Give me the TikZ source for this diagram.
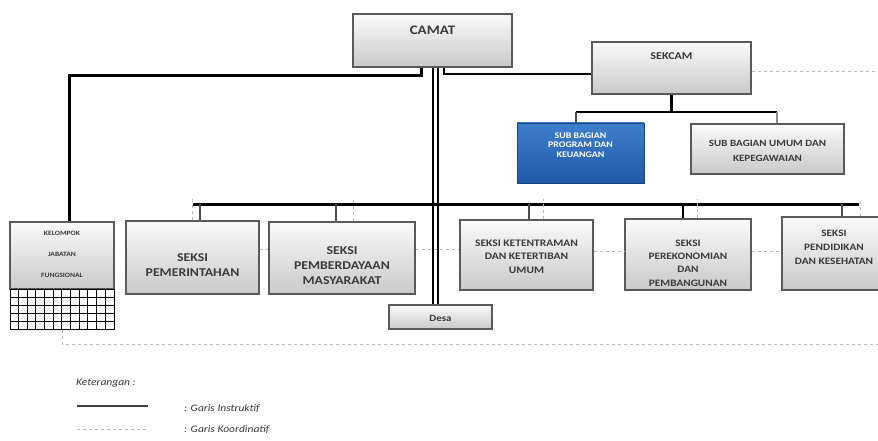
\documentclass[tikz,border=0pt]{standalone}
\usepackage{fontspec}
\setmainfont{Carlito}[FakeStretch=1.15]
\usetikzlibrary{shadows}
\definecolor{txtc}{HTML}{3A3A3A}
\definecolor{bord}{HTML}{5A5A5A}
\definecolor{blueT}{HTML}{3F7FCC}
\definecolor{blueB}{HTML}{2158A8}
\tikzset{
  box/.style={rectangle, draw=bord, line width=1.1pt, top color=white!96!gray, bottom color=gray!42,
    drop shadow={opacity=0.25, shadow xshift=1.3pt, shadow yshift=-1.3pt}, inner sep=0pt},
  bluebox/.style={rectangle, draw=blueB!80!black, line width=0.8pt, top color=blueT, bottom color=blueB,
    drop shadow={opacity=0.2, shadow xshift=1.3pt, shadow yshift=-1.3pt}, inner sep=0pt},
  lbl/.style={font=\bfseries, text=txtc, align=center, inner sep=0pt},
  thickln/.style={line width=3pt, black},
  medln/.style={line width=2.2pt, black},
  dblln/.style={line width=2pt, black},
  conn/.style={line width=1.4pt, black!70},
  coordln/.style={line width=0.8pt, gray!55, dash pattern=on 3pt off 3pt},
  leg/.style={font=\itshape\fontsize{10}{12}\selectfont, text=txtc, inner sep=0pt, anchor=west},
}
\begin{document}
\begin{tikzpicture}[x=1pt,y=-1pt]
\clip (0,0) rectangle (878,441);
\fill[white] (0,0) rectangle (878,441);

% helper coordinates
\coordinate (xL) at (421,0);
\coordinate (xR) at (444,0);
\coordinate (xD1) at (432.5,0);
\coordinate (xD2) at (438,0);
\coordinate (xK) at (69,0);
\coordinate (yT) at (0,76);
\coordinate (yS) at (0,74);
\coordinate (ySd) at (0,71);
\coordinate (ySub) at (0,112);
\coordinate (barL) at (193,204);
\coordinate (barR) at (859,204);
\coordinate (yDash) at (0,199);
\coordinate (yH) at (0,249);
\coordinate (yH2) at (0,251.5);
\coordinate (yB) at (0,344);
\coordinate (xE) at (880,0);

% boxes
\node[box, minimum width=159, minimum height=53] (camat) at (432.5,40.5) {};
\node[box, minimum width=159, minimum height=52] (sekcam) at (671.5,68) {};
\node[bluebox, minimum width=127, minimum height=60] (prog) at (580.5,153) {};
\node[box, minimum width=153, minimum height=50] (umum) at (767.5,149) {};
\node[box, minimum width=104, minimum height=67] (kel) at (62,255.5) {};
\node[rectangle, draw=black, line width=1pt, fill=white, minimum width=104, minimum height=40, inner sep=0pt] (kgrid) at (62,309) {};
\node[box, minimum width=133, minimum height=73] (pem) at (192.5,257.5) {};
\node[box, minimum width=146, minimum height=72] (pemb) at (342,258) {};
\node[box, minimum width=133, minimum height=70] (ket) at (526.5,255) {};
\node[box, minimum width=126, minimum height=71] (eko) at (688,254.5) {};
\node[box, minimum width=112, minimum height=73] (pend) at (838,253.5) {};
\node[box, minimum width=103, minimum height=24] (desa) at (440.5,317) {};

% grid of kelompok
\foreach \i in {1,...,11}
  \draw[black, line width=0.6pt] ([xshift={\i*8.6667pt}]kgrid.south west) -- ([xshift={\i*8.6667pt}]kgrid.north west);
\foreach \j in {1,...,4}
  \draw[black, line width=0.6pt] ([yshift={\j*8pt}]kgrid.south west) -- ([yshift={\j*8pt}]kgrid.south east);

% texts
\node[lbl, font=\bfseries\fontsize{13}{15}\selectfont] (tcamat) at (432.5,30) {CAMAT};
\node[lbl, font=\bfseries\fontsize{10.5}{12}\selectfont] (tsekcam) at (671.5,56) {SEKCAM};
\node[lbl, text=white, font=\bfseries\fontsize{8.6}{9.3}\selectfont] (tprog) at (580.5,145) {SUB BAGIAN\\PROGRAM DAN\\KEUANGAN};
\node[lbl, font=\bfseries\fontsize{9.6}{14.5}\selectfont] (tumum) at (767.5,151) {SUB BAGIAN UMUM DAN\\KEPEGAWAIAN};
\node[lbl, font=\bfseries\fontsize{6.6}{21}\selectfont] (tkel) at (62,254) {KELOMPOK\\JABATAN\\FUNGSIONAL};
\node[lbl, font=\bfseries\fontsize{12}{15}\selectfont] (tpem) at (192.5,265) {SEKSI\\PEMERINTAHAN};
\node[lbl, font=\bfseries\fontsize{12}{15}\selectfont] (tpemb) at (342,266) {SEKSI\\PEMBERDAYAAN\\MASYARAKAT};
\node[lbl, font=\bfseries\fontsize{10}{13.5}\selectfont] (tket) at (526.5,256.5) {SEKSI KETENTRAMAN\\DAN KETERTIBAN\\UMUM};
\node[lbl, font=\bfseries\fontsize{9.8}{13.3}\selectfont] (teko) at (688,263) {SEKSI\\PEREKONOMIAN\\DAN\\PEMBANGUNAN};
\node[lbl, font=\bfseries\fontsize{9.8}{14}\selectfont] (tpend) at (834,247) {SEKSI\\PENDIDIKAN\\DAN KESEHATAN};
\node[lbl, font=\bfseries\fontsize{9.5}{10}\selectfont] (tdesa) at (440.5,318) {Desa};

% instructive lines
\draw[thickln] (camat.south -| xL) -- (xL |- yT) -- (xK |- yT) -- (kel.north -| xK);
\draw[medln] (camat.south -| xR) -- (xR |- yS) -- (sekcam.west |- yS);
\draw[dblln] (camat.south -| xD1) -- (desa.north -| xD1);
\draw[dblln] (camat.south -| xD2) -- (desa.north -| xD2);
\draw[medln] (sekcam.south) -- (sekcam.south |- ySub);
\draw[medln] ([xshift=-4.5pt]prog.north |- ySub) -- ([xshift=9.5pt]umum.north |- ySub);
\draw[conn] ([xshift=-4.5pt]prog.north) -- ([xshift=-4.5pt]prog.north |- ySub);
\draw[conn, black!45] ([xshift=9.5pt]umum.north) -- ([xshift=9.5pt]umum.north |- ySub);
\draw[thickln] (barL) -- (barR);
\draw[conn] ([xshift=7.5pt]pem.north) -- ([xshift=7.5pt]pem.north |- barL);
\draw[conn] ([xshift=-6pt]pemb.north) -- ([xshift=-6pt]pemb.north |- barL);
\draw[conn] ([xshift=2.5pt]ket.north) -- ([xshift=2.5pt]ket.north |- barL);
\draw[conn, black] ([xshift=-5pt]eko.north) -- ([xshift=-5pt]eko.north |- barL);
\draw[conn] ([xshift=4pt]pend.north) -- ([xshift=4pt]pend.north |- barL);

% coordinative lines
\draw[coordln] (sekcam.east |- ySd) -- (xE |- ySd);
\draw[coordln] ([xshift=-0.5pt]pem.north) -- ([xshift=-0.5pt]pem.north |- yDash);
\draw[coordln] ([xshift=11pt]pemb.north) -- ([xshift=11pt]pemb.north |- yDash);
\draw[coordln] ([xshift=16.5pt]ket.north) -- ([xshift=16.5pt]ket.north |- yDash);
\draw[coordln] ([xshift=9pt]eko.north) -- ([xshift=9pt]eko.north |- yDash);
\draw[coordln] ([xshift=22pt]pend.north) -- ([xshift=22pt]pend.north |- yDash);
\draw[coordln] (pem.east |- yH) -- (pemb.west |- yH);
\draw[coordln] (pemb.east |- yH) -- (ket.west |- yH);
\draw[coordln] (ket.east |- yH2) -- (eko.west |- yH2);
\draw[coordln] (eko.east |- yH2) -- (pend.west |- yH2);
\draw[coordln] (kgrid.south) -- (kgrid.south |- yB) -- (xE |- yB);

% legend
\node[leg] (lket) at (76,383) {Keterangan :};
\coordinate (l1a) at (77,406);
\coordinate (l1b) at (148,406);
\coordinate (l2a) at (77,429);
\coordinate (l2b) at (148,429);
\draw[line width=1.1pt, black!75] (l1a) -- (l1b);
\draw[coordln] (l2a) -- (l2b);
\node[leg] (lgi) at (184,409) {: Garis Instruktif};
\node[leg] (lgk) at (184,430) {: Garis Koordinatif};
\end{tikzpicture}
\end{document}
